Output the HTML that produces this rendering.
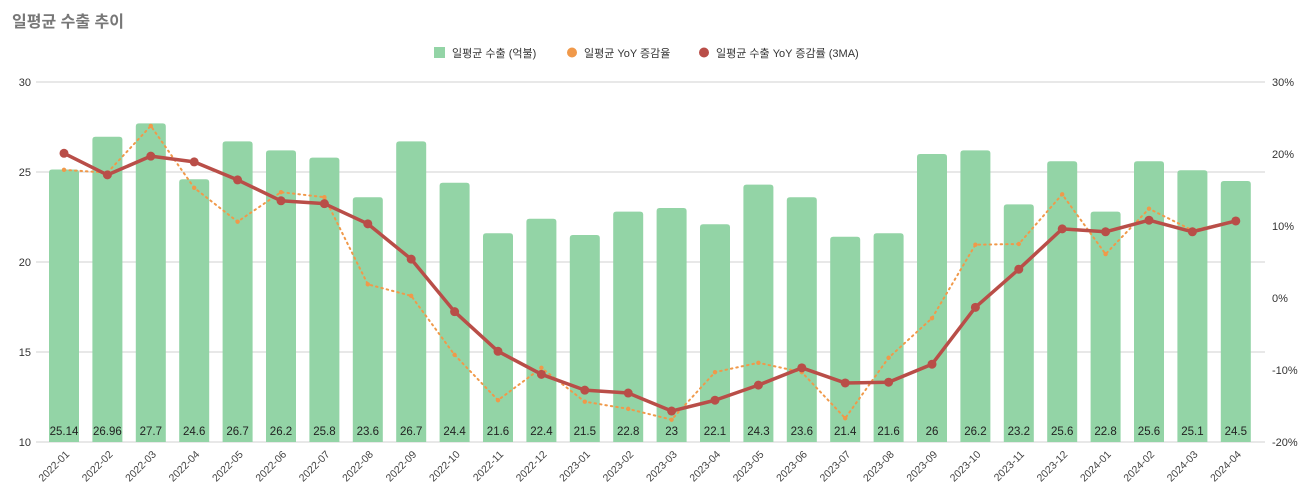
<!DOCTYPE html>
<html><head><meta charset="utf-8"><style>
body{margin:0;background:#fff;}
svg text{font-family:"Liberation Sans","Noto Sans CJK KR",sans-serif;}
</style></head><body>
<svg id="c" width="1301" height="495" xmlns="http://www.w3.org/2000/svg">
<text x="12" y="27" font-size="16" font-weight="bold" fill="#777">일평균 수출 추이</text>
<g font-size="11" fill="#333">
<rect x="434" y="47" width="11" height="11" fill="#93d4a6"/>
<text x="452" y="57">일평균 수출 (억불)</text>
<circle cx="572" cy="52.5" r="5" fill="#f0994a"/>
<text x="584" y="57">일평균 YoY 증감율</text>
<circle cx="704" cy="52.5" r="5" fill="#b94e48"/>
<text x="716" y="57">일평균 수출 YoY 증감률 (3MA)</text>
</g>
<g id="grid"></g><g id="bars"></g><g id="lines"></g><g id="axes"></g>
</svg>
<script>
const categories=["2022-01","2022-02","2022-03","2022-04","2022-05","2022-06","2022-07","2022-08","2022-09","2022-10","2022-11","2022-12","2023-01","2023-02","2023-03","2023-04","2023-05","2023-06","2023-07","2023-08","2023-09","2023-10","2023-11","2023-12","2024-01","2024-02","2024-03","2024-04"];
const exportValues=[25.14,26.96,27.7,24.6,26.7,26.2,25.8,23.6,26.7,24.4,21.6,22.4,21.5,22.8,23,22.1,24.3,23.6,21.4,21.6,26,26.2,23.2,25.6,22.8,25.6,25.1,24.5];
const yoyValues=[17.8,17.4,23.9,15.3,10.6,14.7,14.0,1.9,0.3,-7.9,-14.2,-9.7,-14.4,-15.4,-16.9,-10.3,-9.0,-10.3,-16.7,-8.3,-2.8,7.4,7.5,14.4,6.1,12.4,9.4,10.7];
const ma3Values=[20.1,17.1,19.7,18.9,16.4,13.5,13.1,10.3,5.4,-1.9,-7.4,-10.6,-12.8,-13.2,-15.7,-14.2,-12.1,-9.7,-11.8,-11.7,-9.2,-1.3,4.0,9.6,9.2,10.8,9.2,10.7];
const leftTicks=[10,15,20,25,30];
const rightTicks=[-20,-10,0,10,20,30];
</script>
<script>
const NS="http://www.w3.org/2000/svg";
const X0=42.3,X1=1257.5,T=82,B=442;
const step=(X1-X0)/categories.length;
const xc=i=>X0+step*(i+0.5);
const yL=v=>B-(v-10)/20*(B-T);
const yR=v=>B-(v+20)/50*(B-T);
function mk(tag,attrs,parent,text){const e=document.createElementNS(NS,tag);for(const k in attrs)e.setAttribute(k,attrs[k]);if(text!==undefined)e.textContent=text;document.getElementById(parent).appendChild(e);return e;}
leftTicks.forEach(v=>{
  const l=mk('line',{x1:36,x2:1265,y1:yL(v),y2:yL(v),stroke:'#d0d0d0','stroke-width':1},'grid');
  
  
  const t=mk('text',{x:31,y:yL(v)+4,'text-anchor':'end','font-size':11,fill:'#333'},'axes',String(v));
  
  
});
rightTicks.forEach(v=>{
  const t=mk('text',{x:1272,y:yR(v)+4,'font-size':11,fill:'#333'},'axes',v+'%');
  
  
});
const bw=30;
exportValues.forEach((v,i)=>{
  const x=xc(i)-bw/2,y=yL(v);
  const p=mk('path',{d:`M${x},${B}V${y+3}Q${x},${y} ${x+3},${y}H${x+bw-3}Q${x+bw},${y} ${x+bw},${y+3}V${B}Z`,fill:'#93d4a6'},'bars');
  
  
  const t=mk('text',{x:xc(i),y:435,'text-anchor':'middle','font-size':11.5,fill:'#222'},'bars',String(v));
  
  
  const c=mk('text',{x:0,y:0,'text-anchor':'end','font-size':10.5,fill:'#444',transform:`translate(${xc(i)+6},${455}) rotate(-45)`},'axes',categories[i]);
  
  
});
const yoyPts=yoyValues.map((v,i)=>xc(i)+','+yR(v)).join(' ');
const yl=mk('polyline',{points:yoyPts,fill:'none',stroke:'#f0994a','stroke-width':2,'stroke-dasharray':'1.5 4','stroke-linecap':'round'},'lines');


yoyValues.forEach((v,i)=>{
  const c=mk('circle',{cx:xc(i),cy:yR(v),r:2.2,fill:'#f0994a'},'lines');
  
  
});
const maPts=ma3Values.map((v,i)=>xc(i)+','+yR(v)).join(' ');
const ml=mk('polyline',{points:maPts,fill:'none',stroke:'#b94e48','stroke-width':3.5,'stroke-linejoin':'round'},'lines');


ma3Values.forEach((v,i)=>{
  const c=mk('circle',{cx:xc(i),cy:yR(v),r:4.5,fill:'#b94e48'},'lines');
  
  
});
</script>
</body></html>
